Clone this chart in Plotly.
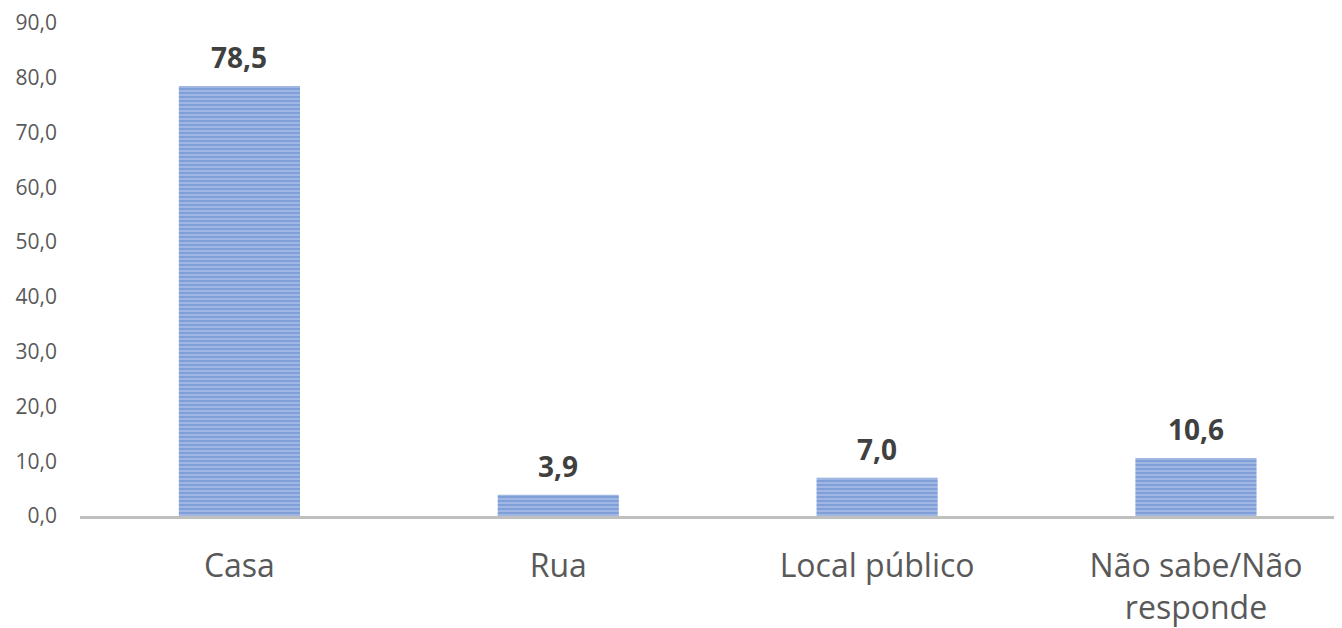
import plotly.graph_objects as go

categories = ["Casa", "Rua", "Local público", "Não sabe/Não<br>responde"]
values = [78.5, 3.9, 7.0, 10.6]
tick_vals = [0, 10, 20, 30, 40, 50, 60, 70, 80, 90]

labels = [f"{v:.1f}".replace(".", ",") for v in values]

fig = go.Figure()
fig.add_trace(go.Bar(
    x=categories, y=values, width=0.38,
    marker=dict(color="#BDCDEC",
                pattern=dict(shape="-", fgcolor="#4472C4", bgcolor="#BDCDEC",
                             size=4, solidity=0.75),
                line=dict(width=0)),
    hoverinfo="skip",
))
for c, v, t in zip(categories, values, labels):
    fig.add_annotation(x=c, y=v, text=f"<b>{t}</b>", showarrow=False,
                       yanchor="bottom", yshift=8,
                       font=dict(family="Open Sans", size=28, color="#404040"))

fig.update_layout(
    width=1342, height=628,
    margin=dict(l=72, r=8, t=15, b=120, autoexpand=False),
    plot_bgcolor="white", paper_bgcolor="white",
    separators=",.",
    showlegend=False,
    font=dict(family="Open Sans", color="#595959"),
)
fig.update_xaxes(range=[-0.5, 3.458], showline=True, linecolor="#BFBFBF", linewidth=2.5,
                 ticks="", tickfont=dict(size=32, color="#595959"), showgrid=False,
                 zeroline=False, ticklabelstandoff=20, automargin=False)
fig.update_yaxes(range=[0, 90], tickvals=tick_vals, tickformat=".1f", showgrid=False,
                 zeroline=False, showline=False, ticks="", ticklabelstandoff=22,
                 ticklabeloverflow="allow", automargin=False,
                 tickfont=dict(size=21, color="#595959"))
fig.write_html("out.html")
